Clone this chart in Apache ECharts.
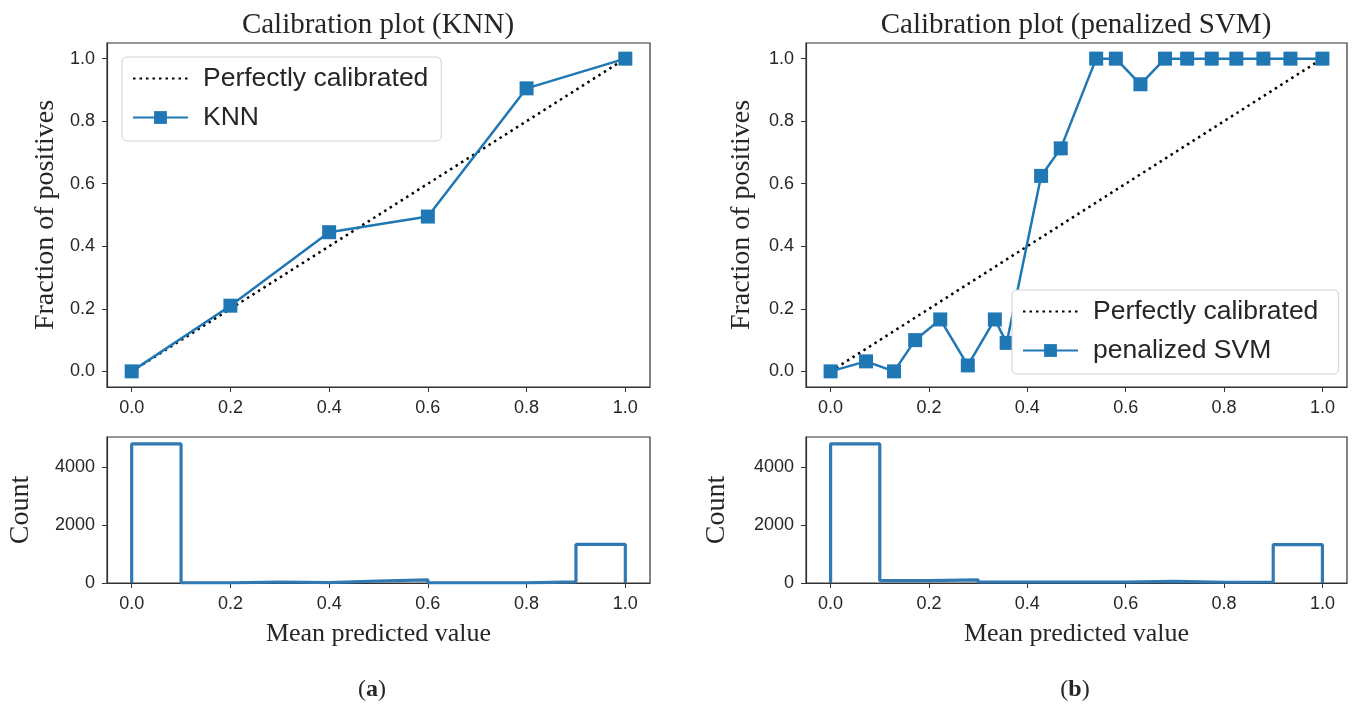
<!DOCTYPE html>
<html>
<head>
<meta charset="utf-8">
<title>Calibration plots</title>
<script src="https://cdn.jsdelivr.net/npm/echarts@6/dist/echarts.min.js"></script>
<style>
  html, body { margin: 0; padding: 0; background: #fff; }
  #chart { width: 1352px; height: 706px; }
</style>
</head>
<body>
<div id="chart"></div>
<script>
// calibration curves
const knnX = [0.0, 0.2, 0.4, 0.6, 0.8, 1.0];
const knnY = [0.0, 0.21, 0.445, 0.495, 0.905, 1.0];
const svmX = [0.0, 0.072, 0.129, 0.172, 0.223, 0.279, 0.334, 0.358, 0.428, 0.468,
  0.54, 0.58, 0.63, 0.68, 0.725, 0.775, 0.825, 0.88, 0.935, 1.0];
const svmY = [0.0, 0.032, 0.0, 0.10, 0.166, 0.019, 0.166, 0.091, 0.625, 0.713,
  1.0, 1.0, 0.918, 1.0, 1.0, 1.0, 1.0, 1.0, 1.0, 1.0];
const diagX = [0.0, 1.0];
const diagY = [0.0, 1.0];

// histograms of predicted values (10 bins)
const binEdges = [0.0, 0.1, 0.2, 0.3, 0.4, 0.5, 0.6, 0.7, 0.8, 0.9, 1.0];
const knnCounts = [4810, 5, 35, 10, 70, 110, 5, 5, 40, 1335];
const svmCounts = [4790, 80, 110, 35, 35, 35, 55, 25, 35, 1320];

const xTicks = [0.0, 0.2, 0.4, 0.6, 0.8, 1.0];
const yTicks = [0.0, 0.2, 0.4, 0.6, 0.8, 1.0];
const countTicks = [0, 2000, 4000];

const blue = '#1f77b4';
const histBlue = '#3079b3';
const dark = '#262626';
const sans = '"Liberation Sans", Arial, sans-serif';
const serif = '"Liberation Serif", "Times New Roman", serif';

const zip = (xs, ys) => xs.map((x, i) => [x, ys[i]]);

// outline of a step histogram, built from the bin edges and counts
function stepPoints(edges, counts) {
  const pts = [[edges[0], 0]];
  counts.forEach((c, i) => {
    pts.push([edges[i], c]);
    pts.push([edges[i + 1], c]);
  });
  pts.push([edges[edges.length - 1], 0]);
  return pts;
}

const grids = [
  { left: 107, top: 43, width: 543, height: 344 },
  { left: 107, top: 437, width: 543, height: 146 },
  { left: 806, top: 43, width: 541, height: 344 },
  { left: 806, top: 437, width: 541, height: 146 }
].map(g => Object.assign(g, { show: true, borderColor: '#333', borderWidth: 1.2, backgroundColor: '#fff' }));

function xAxis(gridIndex, name) {
  return {
    type: 'value', gridIndex, min: -0.05, max: 1.05,
    name: name || '', nameLocation: 'middle', nameGap: 38,
    nameTextStyle: { fontFamily: serif, fontSize: 26, color: dark },
    axisLine: { show: true, onZero: false, lineStyle: { color: '#333', width: 1.2 } },
    axisTick: { show: true, length: 5, customValues: xTicks, lineStyle: { color: '#333' } },
    axisLabel: { customValues: xTicks, margin: 12, fontFamily: sans, fontSize: 18, color: dark,
      formatter: v => v.toFixed(1) },
    splitLine: { show: false }
  };
}

function yAxis(gridIndex, name, gap, max, ticks, fmt) {
  return {
    type: 'value', gridIndex, min: ticks === yTicks ? -0.05 : 0, max,
    name, nameLocation: 'middle', nameGap: gap, nameRotate: 90,
    nameTextStyle: { fontFamily: serif, fontSize: 28, color: dark },
    axisLine: { show: true, onZero: false, lineStyle: { color: '#333', width: 1.2 } },
    axisTick: { show: true, length: 5, customValues: ticks, lineStyle: { color: '#333' } },
    axisLabel: { customValues: ticks, margin: 12, fontFamily: sans, fontSize: 18, color: dark, formatter: fmt },
    splitLine: { show: false }
  };
}

const fmt1 = v => v.toFixed(1);
const fmt0 = v => String(Math.round(v));

const legendBase = {
  orient: 'vertical', itemWidth: 55, itemHeight: 16, itemGap: 12,
  backgroundColor: '#fff', borderColor: '#d0d0d0', borderWidth: 1, borderRadius: 5,
  padding: [8, 13, 10, 10],
  textStyle: { fontFamily: sans, fontSize: 26.5, color: dark, padding: [0, 0, 0, 10] }
};

const diagStyle = { color: '#000', width: 2.5, type: [2.5, 4] };
const noMark = { opacity: 0 };

const option = {
  animation: false,
  backgroundColor: '#fff',
  title: [
    { text: 'Calibration plot (KNN)', left: 378, top: 11, textAlign: 'center', padding: 0,
      textStyle: { fontFamily: serif, fontSize: 29, fontWeight: 'normal', color: dark } },
    { text: 'Calibration plot (penalized SVM)', left: 1076, top: 11, textAlign: 'center', padding: 0,
      textStyle: { fontFamily: serif, fontSize: 29, fontWeight: 'normal', color: dark } }
  ],
  legend: [
    Object.assign({}, legendBase, { left: 122, top: 57,
      data: [{ name: 'Perfectly calibrated', itemStyle: noMark }, 'KNN'] }),
    Object.assign({}, legendBase, { left: 1012, top: 290,
      data: [{ name: 'Perfectly calibrated ', itemStyle: noMark }, 'penalized SVM'] })
  ],
  grid: grids,
  xAxis: [xAxis(0), xAxis(1, 'Mean predicted value'), xAxis(2), xAxis(3, 'Mean predicted value')],
  yAxis: [
    yAxis(0, 'Fraction of positives', 47, 1.05, yTicks, fmt1),
    yAxis(1, 'Count', 72, Math.max(...knnCounts) * 1.05, countTicks, fmt0),
    yAxis(2, 'Fraction of positives', 50, 1.05, yTicks, fmt1),
    yAxis(3, 'Count', 75, Math.max(...svmCounts) * 1.05, countTicks, fmt0)
  ],
  series: [
    { name: 'Perfectly calibrated', type: 'line', xAxisIndex: 0, yAxisIndex: 0,
      data: zip(diagX, diagY), symbol: 'none', lineStyle: diagStyle, itemStyle: { color: '#000' } },
    { name: 'KNN', type: 'line', xAxisIndex: 0, yAxisIndex: 0, data: zip(knnX, knnY),
      symbol: 'rect', symbolSize: 14, showAllSymbol: true,
      lineStyle: { color: blue, width: 2.5 }, itemStyle: { color: blue } },
    { name: 'hist KNN', type: 'line', xAxisIndex: 1, yAxisIndex: 1, data: stepPoints(binEdges, knnCounts),
      symbol: 'none', lineStyle: { color: histBlue, width: 3.2 }, itemStyle: { color: histBlue } },
    { name: 'Perfectly calibrated ', type: 'line', xAxisIndex: 2, yAxisIndex: 2,
      data: zip(diagX, diagY), symbol: 'none', lineStyle: diagStyle, itemStyle: { color: '#000' } },
    { name: 'penalized SVM', type: 'line', xAxisIndex: 2, yAxisIndex: 2, data: zip(svmX, svmY),
      symbol: 'rect', symbolSize: 14, showAllSymbol: true,
      lineStyle: { color: blue, width: 2.5 }, itemStyle: { color: blue } },
    { name: 'hist SVM', type: 'line', xAxisIndex: 3, yAxisIndex: 3, data: stepPoints(binEdges, svmCounts),
      symbol: 'none', lineStyle: { color: histBlue, width: 3.2 }, itemStyle: { color: histBlue } }
  ],
  graphic: [
    { type: 'text', x: 372, y: 690, style: { text: '{n|(}{b|a}{n|)}', align: 'center', verticalAlign: 'middle',
      rich: { n: { fontFamily: serif, fontSize: 24, fill: dark }, b: { fontFamily: serif, fontSize: 24, fontWeight: 'bold', fill: dark } } } },
    { type: 'text', x: 1075, y: 690, style: { text: '{n|(}{b|b}{n|)}', align: 'center', verticalAlign: 'middle',
      rich: { n: { fontFamily: serif, fontSize: 24, fill: dark }, b: { fontFamily: serif, fontSize: 24, fontWeight: 'bold', fill: dark } } } }
  ]
};

const chart = echarts.init(document.getElementById('chart'));
chart.setOption(option);
window.addEventListener('resize', () => {
  chart.resize();
});
</script>
</body>
</html>
